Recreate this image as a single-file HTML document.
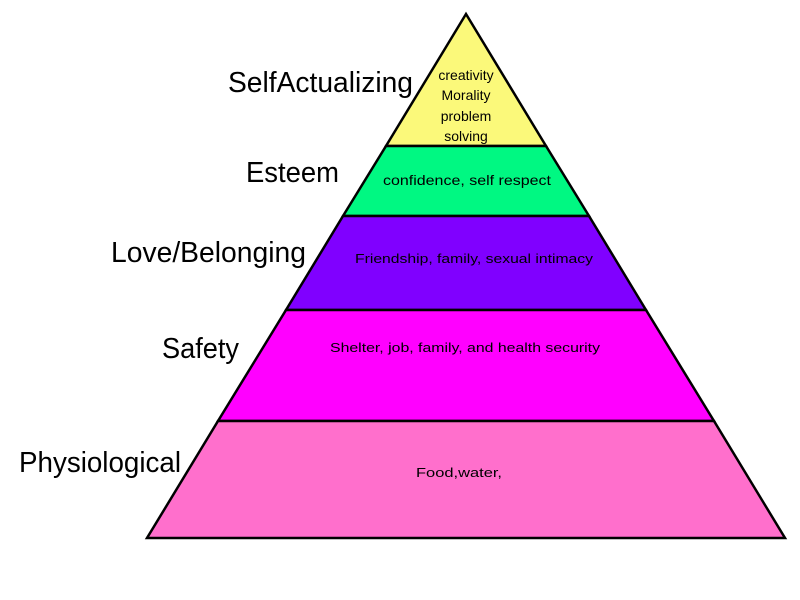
<!DOCTYPE html>
<html><head><style>body{margin:0;background:#fff}svg{display:block}</style></head><body>
<svg width="800" height="600" xmlns="http://www.w3.org/2000/svg" font-family="Liberation Sans, sans-serif">
<g stroke="#000" stroke-width="2.5" stroke-linejoin="miter">
<polygon points="466,14 546,146 386,146" fill="#fbf97a"/>
<polygon points="386,146 546,146 589,216 343,216" fill="#00f882"/>
<polygon points="343,216 589,216 646,310 286,310" fill="#8000ff"/>
<polygon points="286,310 646,310 714,421 218,421" fill="#ff00ff"/>
<polygon points="218,421 714,421 785,538 147,538" fill="#ff6fcc"/>
</g>
<g fill="#000" font-size="29">
<text x="228" y="92" textLength="185" lengthAdjust="spacingAndGlyphs">SelfActualizing</text>
<text x="246" y="182" textLength="93" lengthAdjust="spacingAndGlyphs">Esteem</text>
<text x="111" y="262" textLength="195" lengthAdjust="spacingAndGlyphs">Love/Belonging</text>
<text x="162" y="358" textLength="77" lengthAdjust="spacingAndGlyphs">Safety</text>
<text x="19" y="472" textLength="162" lengthAdjust="spacingAndGlyphs">Physiological</text>
</g>
<g fill="#000" font-size="14" text-anchor="middle">
<text x="466" y="80">creativity</text>
<text x="466" y="100">Morality</text>
<text x="466" y="121">problem</text>
<text x="466" y="141">solving</text>
<text x="467" y="185" textLength="168" lengthAdjust="spacingAndGlyphs">confidence, self respect</text>
<text x="474" y="263" font-size="13" textLength="238" lengthAdjust="spacingAndGlyphs">Friendship, family, sexual intimacy</text>
<text x="465" y="352" font-size="13" textLength="270" lengthAdjust="spacingAndGlyphs">Shelter, job, family, and health security</text>
<text x="459" y="477" font-size="13" textLength="86" lengthAdjust="spacingAndGlyphs">Food,water,</text>
</g>
</svg>
</body></html>
